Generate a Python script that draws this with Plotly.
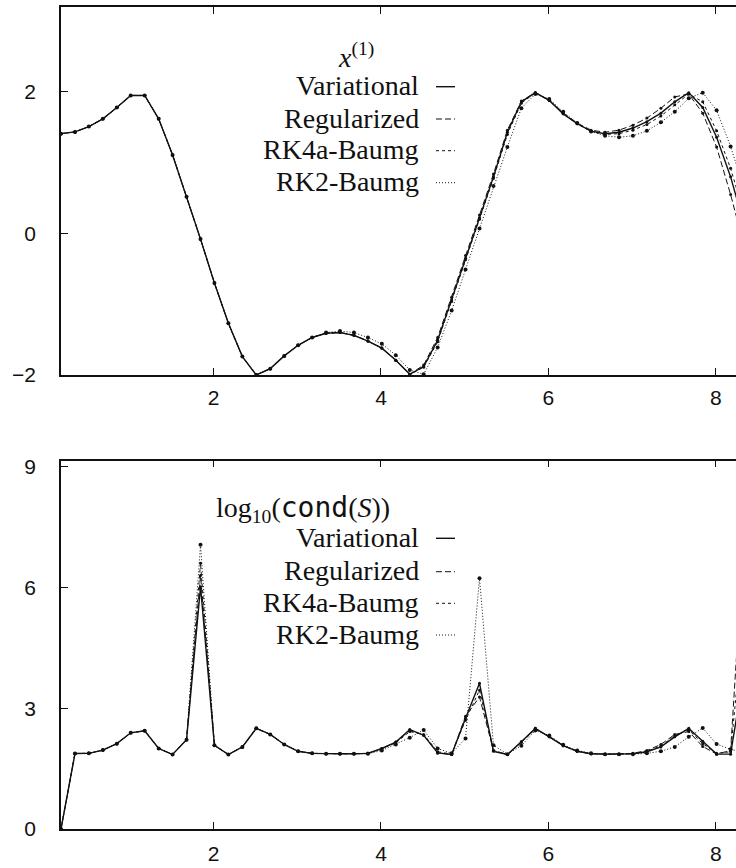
import plotly.graph_objects as go

# ---------------- data ----------------
t = [0.177, 0.344, 0.510, 0.677, 0.844, 1.010, 1.177, 1.344, 1.510, 1.677,
     1.844, 2.010, 2.177, 2.344, 2.510, 2.677, 2.844, 3.010, 3.177, 3.344,
     3.510, 3.677, 3.844, 4.010, 4.177, 4.344, 4.510, 4.677, 4.844, 5.010,
     5.177, 5.344, 5.510, 5.677, 5.844, 6.010, 6.177, 6.344, 6.510, 6.677,
     6.844, 7.010, 7.177, 7.344, 7.510, 7.677, 7.844, 8.010, 8.177, 8.344]

x1_variational = [1.41, 1.435, 1.51, 1.62, 1.78, 1.95, 1.95, 1.62, 1.11, 0.52,
                  -0.08, -0.70, -1.27, -1.74, -2.00, -1.91, -1.73, -1.58, -1.47, -1.41,
                  -1.40, -1.44, -1.52, -1.62, -1.79, -1.99, -1.88, -1.51, -0.94, -0.35,
                  0.22, 0.80, 1.43, 1.86, 1.99, 1.88, 1.69, 1.55, 1.445, 1.41,
                  1.43, 1.49, 1.58, 1.70, 1.86, 1.99, 1.78, 1.36, 0.80, 0.10]
x1_regularized = [1.41, 1.435, 1.51, 1.62, 1.78, 1.95, 1.95, 1.62, 1.11, 0.52,
                  -0.08, -0.70, -1.27, -1.74, -2.00, -1.91, -1.73, -1.58, -1.47, -1.41,
                  -1.40, -1.44, -1.52, -1.62, -1.79, -1.99, -1.86, -1.47, -0.90, -0.31,
                  0.26, 0.84, 1.46, 1.87, 1.99, 1.88, 1.70, 1.56, 1.46, 1.43,
                  1.46, 1.53, 1.63, 1.77, 1.93, 1.97, 1.70, 1.22, 0.55, -0.20]
x1_rk4a = [1.41, 1.435, 1.51, 1.62, 1.78, 1.95, 1.95, 1.62, 1.11, 0.52,
           -0.08, -0.70, -1.27, -1.74, -2.00, -1.91, -1.73, -1.58, -1.47, -1.41,
           -1.40, -1.44, -1.52, -1.62, -1.79, -1.99, -1.89, -1.53, -0.96, -0.37,
           0.20, 0.78, 1.40, 1.84, 1.99, 1.88, 1.69, 1.55, 1.44, 1.40,
           1.41, 1.46, 1.54, 1.66, 1.82, 1.97, 1.86, 1.45, 0.92, 0.25]
x1_rk2 = [1.41, 1.435, 1.51, 1.62, 1.78, 1.95, 1.95, 1.62, 1.11, 0.52,
          -0.08, -0.70, -1.27, -1.74, -2.00, -1.91, -1.73, -1.58, -1.47, -1.40,
          -1.38, -1.40, -1.47, -1.56, -1.72, -1.93, -1.99, -1.61, -1.09, -0.51,
          0.07, 0.67, 1.22, 1.77, 1.97, 1.90, 1.72, 1.56, 1.44, 1.38,
          1.36, 1.38, 1.45, 1.57, 1.72, 1.91, 1.99, 1.74, 1.23, 0.60]

cond_variational = [0.0, 1.875, 1.88, 1.96, 2.12, 2.39, 2.44, 2.00, 1.85, 2.22,
                    6.02, 2.08, 1.85, 2.04, 2.50, 2.35, 2.10, 1.93, 1.88, 1.87,
                    1.87, 1.87, 1.88, 2.00, 2.16, 2.47, 2.33, 1.89, 1.85, 2.75,
                    3.62, 1.93, 1.85, 2.17, 2.50, 2.29, 2.07, 1.93, 1.87, 1.86,
                    1.86, 1.87, 1.92, 2.04, 2.29, 2.50, 2.18, 1.86, 1.86, 4.00]
cond_regularized = [0.0, 1.875, 1.88, 1.96, 2.12, 2.39, 2.44, 2.00, 1.85, 2.22,
                    6.30, 2.08, 1.85, 2.04, 2.50, 2.35, 2.10, 1.93, 1.88, 1.87,
                    1.87, 1.87, 1.88, 2.00, 2.16, 2.45, 2.33, 1.89, 1.85, 2.80,
                    3.28, 1.95, 1.85, 2.17, 2.50, 2.29, 2.07, 1.93, 1.87, 1.86,
                    1.86, 1.88, 1.95, 2.10, 2.35, 2.42, 2.05, 1.86, 1.95, 7.50]
cond_rk4a = [0.0, 1.875, 1.88, 1.96, 2.12, 2.39, 2.44, 2.00, 1.85, 2.22,
             6.60, 2.08, 1.85, 2.04, 2.50, 2.35, 2.10, 1.93, 1.88, 1.87,
             1.87, 1.87, 1.88, 2.00, 2.14, 2.42, 2.35, 1.92, 1.86, 2.70,
             3.45, 1.95, 1.85, 2.15, 2.48, 2.30, 2.08, 1.93, 1.87, 1.86,
             1.86, 1.87, 1.93, 2.06, 2.32, 2.46, 2.12, 1.88, 1.92, 5.50]
cond_rk2 = [0.0, 1.875, 1.88, 1.96, 2.12, 2.39, 2.44, 2.00, 1.85, 2.22,
            7.06, 2.08, 1.85, 2.04, 2.50, 2.35, 2.10, 1.93, 1.88, 1.87,
            1.87, 1.87, 1.87, 1.95, 2.10, 2.27, 2.46, 2.00, 1.88, 2.25,
            6.23, 2.08, 1.86, 2.07, 2.45, 2.32, 2.09, 1.95, 1.88, 1.86,
            1.86, 1.86, 1.88, 1.93, 2.04, 2.29, 2.51, 2.11, 1.98, 1.90]

names = ["Variational", "Regularized", "RK4a-Baumg", "RK2-Baumg"]
top_series = [x1_variational, x1_regularized, x1_rk4a, x1_rk2]
bot_series = [cond_variational, cond_regularized, cond_rk4a, cond_rk2]

x_ticks = [2, 4, 6, 8]
top_y_ticks = [-2, 0, 2]
bot_y_ticks = [0, 3, 6, 9]

# ---------------- styles ----------------
dashes = ["solid", "6px,3px", "3px,3px", "1px,2px"]
widths = [1.4, 1.0, 1.0, 1.0]
msizes = [3, 3, 3, 4]
INK = "#111111"

W, H = 736, 868
ML, MR, MT, MB = 61, 0, 7, 39
PW, PH = W - ML - MR, H - MT - MB


def px(xp):
    return (xp - ML) / PW


def py(yp):
    return (H - MB - yp) / PH


fig = go.Figure()
for i, n in enumerate(names):
    fig.add_trace(go.Scatter(x=t, y=top_series[i], mode="lines+markers", name=n,
                             line=dict(color=INK, width=widths[i], dash=dashes[i]),
                             marker=dict(color=INK, size=msizes[i]),
                             xaxis="x", yaxis="y", showlegend=False, cliponaxis=True))
    fig.add_trace(go.Scatter(x=t, y=bot_series[i], mode="lines+markers", name=n,
                             line=dict(color=INK, width=widths[i], dash=dashes[i]),
                             marker=dict(color=INK, size=msizes[i]),
                             xaxis="x2", yaxis="y2", showlegend=False, cliponaxis=True))

tickfont = dict(family="Liberation Sans", size=21, color=INK)
xr = [0.177, 0.177 + PW / 83.7]
axis_common = dict(showline=True, linecolor=INK, linewidth=1.5, ticks="inside",
                   ticklen=7, tickcolor=INK, tickwidth=1.2, showgrid=False,
                   zeroline=False, tickfont=tickfont)

top_dom = [py(375), 1.0]
bot_dom = [0.0, py(460.7)]

fig.update_layout(
    width=W, height=H, margin=dict(l=ML, r=MR, t=MT, b=MB),
    paper_bgcolor="white", plot_bgcolor="white", showlegend=False,
    xaxis=dict(domain=[0, 1], range=xr, anchor="y", tickvals=x_ticks,
               mirror="ticks", ticklabelstandoff=3, **axis_common),
    yaxis=dict(domain=top_dom, range=[-2, 3.2], anchor="x", tickvals=top_y_ticks,
               ticklabelstandoff=19, **axis_common),
    xaxis2=dict(domain=[0, 1], range=xr, anchor="y2", tickvals=x_ticks,
                mirror="ticks", ticklabelstandoff=5, **axis_common),
    yaxis2=dict(domain=bot_dom, range=[0, 9.15], anchor="x2", tickvals=bot_y_ticks,
                ticklabelstandoff=19, **axis_common),
)

serif = dict(family="Liberation Serif", size=28, color=INK)

# ---- legend blocks (drawn manually, right-aligned text + line samples) ----
def legend_block(title, title_x, title_y, title_anchor, rows_y):
    fig.add_annotation(x=px(title_x), y=py(title_y), xref="paper", yref="paper",
                       text=title, showarrow=False, xanchor=title_anchor,
                       yanchor="middle", font=serif)
    for i, n in enumerate(names):
        yy = rows_y[i]
        fig.add_annotation(x=px(421), y=py(yy - 1), xref="paper", yref="paper",
                           text=n, showarrow=False, xanchor="right",
                           yanchor="middle", font=serif)
        fig.add_shape(type="line", xref="paper", yref="paper",
                      x0=px(436), x1=px(455), y0=py(yy), y1=py(yy),
                      line=dict(color=INK, width=widths[i], dash=dashes[i]))


legend_block("<i>x</i><sup>(1)</sup>", 356, 55, "center", [86.7, 119, 150.7, 182.7])
legend_block("log<sub>10</sub>(<span style='font-family:DejaVu Sans Mono'>cond</span>(<i>S</i>))",
             214, 509, "left", [538.3, 571.7, 603.3, 635])

fig.write_html("out.html")
